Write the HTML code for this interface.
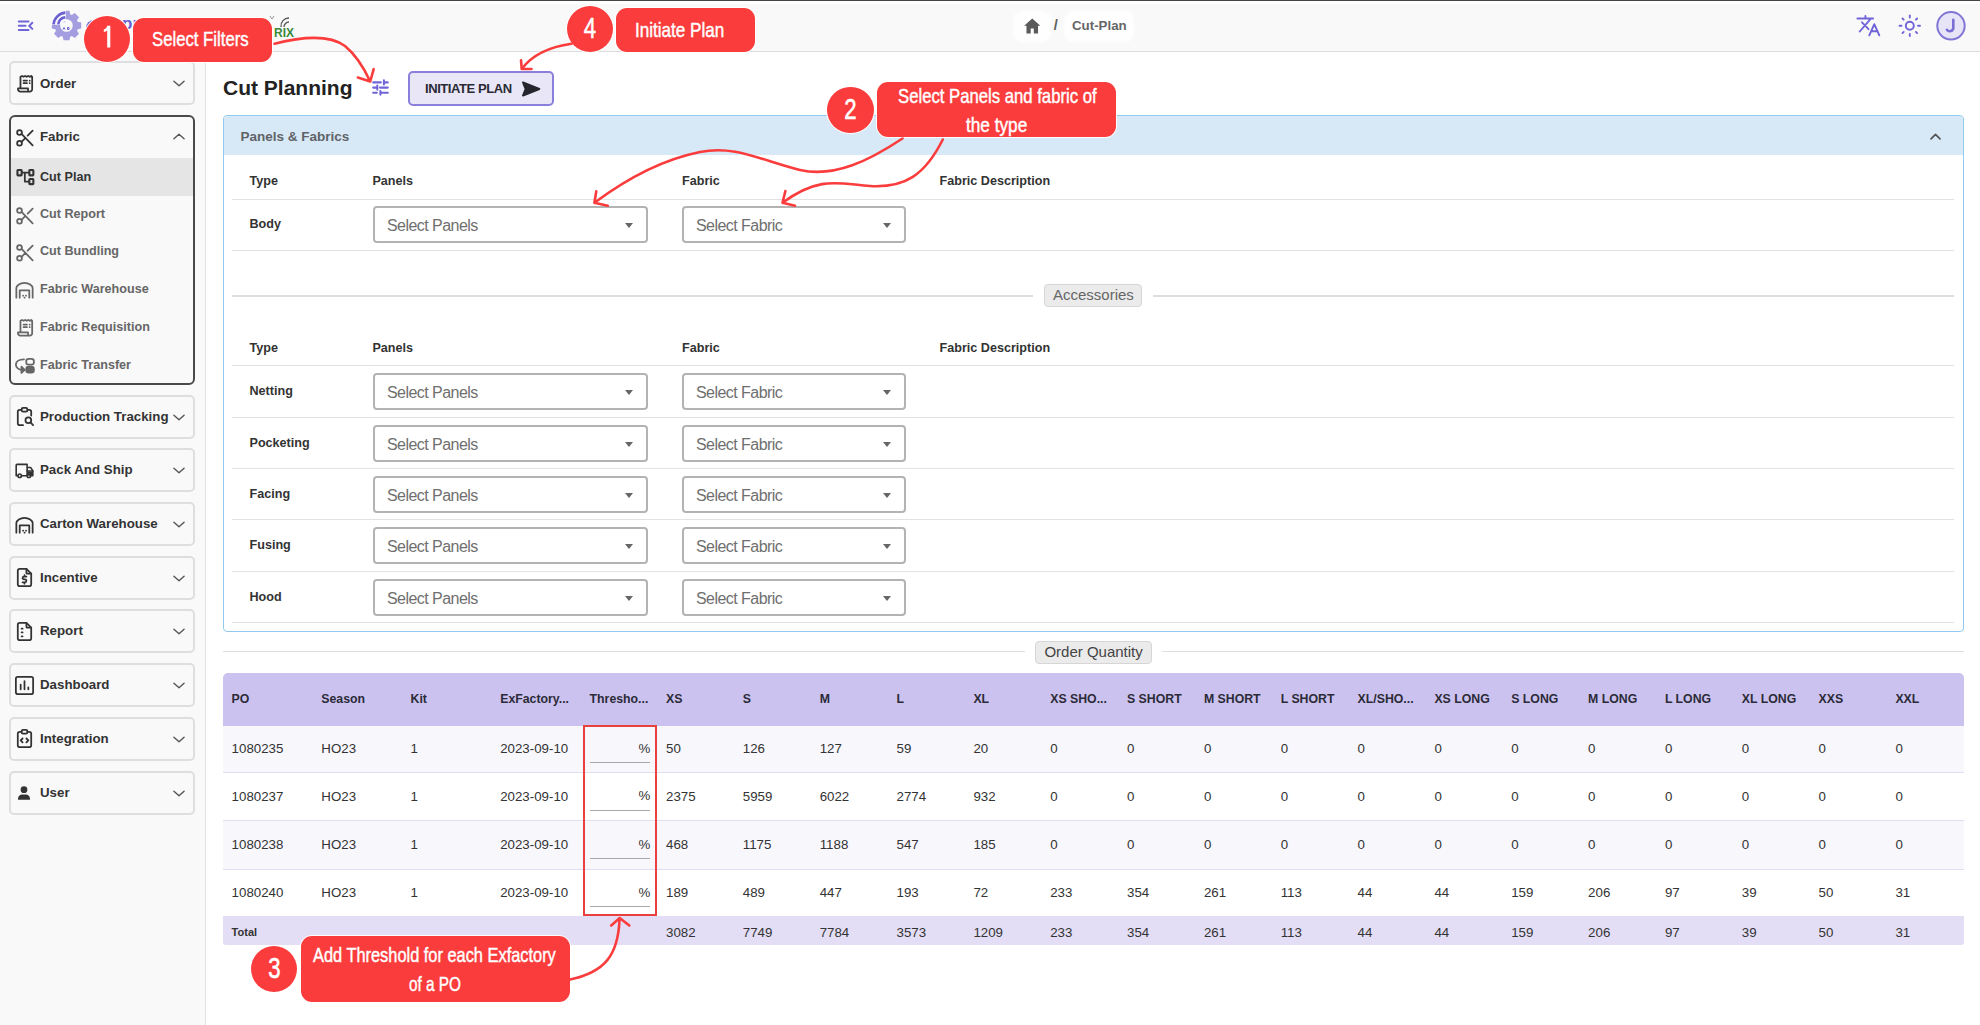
<!DOCTYPE html>
<html><head><meta charset="utf-8"><title>Cut Planning</title><style>
*{box-sizing:border-box;margin:0;padding:0}
html,body{width:1980px;height:1025px;overflow:hidden}
body{position:relative;background:#fff;font-family:"Liberation Sans",sans-serif;color:#333}
.a{position:absolute}
.t{position:absolute;white-space:nowrap;line-height:1}
.b{font-weight:bold}
.card{position:absolute;left:9px;width:186px;height:44px;border:2px solid #dedede;border-radius:5px;background:#f9f9f9}
.sel{position:absolute;border:2px solid #b3b3b3;border-radius:4px;background:#fff;height:37px}
.sel span{position:absolute;left:12px;top:10px;font-size:16px;color:#6f6f6f;letter-spacing:-0.55px;white-space:nowrap;line-height:1}
.sel i{position:absolute;top:15px;width:0;height:0;border-left:4.5px solid transparent;border-right:4.5px solid transparent;border-top:5px solid #666}
.hl{position:absolute;left:232px;width:1722px;height:1.2px;background:#e2e2e2}
.ann{position:absolute;background:#fb3c3c;box-shadow:0 0 0 1px rgba(255,255,255,.9)}
.cond{display:inline-block;transform-origin:0 0;color:#fff;white-space:nowrap;line-height:1;-webkit-text-stroke:0.45px #fff}
</style></head>
<body>
<div class="a" style="left:0;top:0;width:1980px;height:52px;background:#f9f9f9;border-bottom:1.5px solid #dcdcdc"></div>
<div class="a" style="left:0;top:0;width:1980px;height:1.4px;background:#454545"></div>
<div class="a" style="left:0;top:1.3px;width:1980px;height:3px;background:#fff"></div>
<div class="a" style="left:0;top:52px;width:206px;height:973px;background:#f9f9f9;border-right:1.5px solid #e2e2e2"></div>
<svg class="a" style="left:16px;top:18px" width="20" height="16" viewBox="0 0 20 16" fill="none" stroke="#7064d9" stroke-width="2" stroke-linecap="round">
<path d="M2.8 3.4H12.5M2.8 7.7H9.5M2.8 12H12.5M16.3 4.8L13.3 7.9L16.3 10.9"/></svg>
<svg class="a" style="left:51px;top:10px" width="31" height="31" viewBox="0 0 31 31">
<path fill="#a49de0" d="M26.70 11.79L30.20 12.52L30.20 18.48L26.70 19.21L26.04 20.80L28.00 23.79L23.79 28.00L20.80 26.04L19.21 26.70L18.48 30.20L12.52 30.20L11.79 26.70L10.20 26.04L7.21 28.00L3.00 23.79L4.96 20.80L4.30 19.21L0.80 18.48L0.80 12.52L4.30 11.79L4.96 10.20L3.00 7.21L7.21 3.00L10.20 4.96L11.79 4.30L12.52 0.80L18.48 0.80L19.21 4.30L20.80 4.96L23.79 3.00L28.00 7.21L26.04 10.20Z"/>
<rect x="0" y="0" width="14.8" height="14.8" fill="#f9f9f9"/><circle cx="15.5" cy="15.5" r="6.3" fill="#f9f9f9"/>
<path d="M14.3 2.6A12.9 12.9 0 0 0 2.6 14.3" stroke="#6a5fd3" stroke-width="2.6" fill="none"/>
<path d="M14.3 7.3A8.2 8.2 0 0 0 7.3 14.3" stroke="#6a5fd3" stroke-width="2.5" fill="none"/>
<path d="M12 19.5L13 17.5L14 19.5M16.5 17.5h1.5v2h-1.5z" stroke="#6a5fd3" stroke-width="1" fill="none"/>
<path d="M13 12.5L14 11.5" stroke="#6a5fd3" stroke-width="0.8"/>
</svg>
<div class="a" style="left:86px;top:20px;width:8px;height:8px;border-top:3px solid #6a5fd3;border-left:3px solid #6a5fd3;border-radius:8px 0 0 0"></div>
<div class="t b" style="left:122px;top:15px;font-size:17px;color:#6a5fd3">pr</div>
<div class="t b" style="left:274px;top:26.5px;font-size:12px;color:#3a8a3a;letter-spacing:0px">RIX</div>
<svg class="a" style="left:268px;top:14px" width="26" height="16" viewBox="0 0 26 16" fill="none" stroke="#555" stroke-width="1.3">
<path d="M13 13A8 8 0 0 1 21 4"/><path d="M16 13A5 5 0 0 1 21 8"/><path d="M2 2l2 3 2-3" stroke="#999" stroke-width="1"/></svg>
<div class="a" style="left:1014px;top:12px;width:36px;height:29px;background:#fefefe;border-radius:8px;box-shadow:0 0 3px 1px #fefefe"></div>
<div class="a" style="left:1065px;top:12px;width:68px;height:29px;background:#fefefe;border-radius:8px;box-shadow:0 0 3px 1px #fefefe"></div>
<svg class="a" style="left:1022.5px;top:17px" width="18.5" height="17.5" viewBox="0 0 24 22"><path fill="#5a5a5a" d="M12 1.5L1.5 11h3v10h5.5v-6.5h4V21h5.5V11h3z"/></svg>
<div class="t b" style="left:1053.8px;top:18px;font-size:14.5px;color:#5c5c5c">/</div>
<div class="t b" style="left:1072px;top:18.6px;font-size:13.3px;color:#666">Cut-Plan</div>
<svg class="a" style="left:1852px;top:10px" width="30" height="30" viewBox="0 0 30 30" fill="none" stroke="#7064d9" stroke-width="1.9" stroke-linecap="round" stroke-linejoin="round">
<path d="M5.4 8.5H21.1M13.4 6V8.5M18 9.6L7.7 21.5M10 12.3L16.5 19.2M17.3 25.3L22.3 14.2L27.3 25.3M19 21.2H25.6"/></svg>
<svg class="a" style="left:1897px;top:13px" width="26" height="26" viewBox="0 0 26 26" fill="none" stroke="#7064d9" stroke-width="1.9" stroke-linecap="round">
<circle cx="12.8" cy="12.8" r="4"/><path d="M12.8 2.5V4.5M12.8 21V23M2.5 12.8H4.5M21 12.8H23M5.5 5.5L6.7 6.7M18.9 18.9L20.1 20.1M5.5 20.1L6.7 18.9M18.9 6.7L20.1 5.5"/></svg>
<svg class="a" style="left:1930px;top:8px" width="42" height="36" viewBox="0 0 42 36"><circle cx="21" cy="17.8" r="13.7" fill="#e8e4f7" stroke="#8176d6" stroke-width="2"/><path d="M23.3 11.8V20.2A3.6 3.6 0 0 1 16.9 21.8" fill="none" stroke="#7a6fd4" stroke-width="2.6" stroke-linecap="round"/></svg>
<div class="card" style="top:61px"></div>
<svg class="a" style="left:13px;top:71.5px;color:#333" width="23" height="23" viewBox="0 0 24 24" fill="none" stroke="#333" stroke-width="1.85" stroke-linecap="round" stroke-linejoin="round"><path d="M7.8 17.2V5L9.4 4.1L11 5L12.6 4.1L14.2 5L15.8 4.1L17.4 5L19 4.1L20 5V18A2.4 2.4 0 0 1 17.6 20.4H7.6A2.4 2.4 0 0 1 5.2 18V17.2H15.7V20.2"/><path d="M11 8.9H14.6M11 11.6H14.6M17.4 8.9V9M17.4 11.6V11.7"/></svg>
<div class="t b" style="left:40px;top:77px;font-size:13.3px;color:#333">Order</div>
<svg class="a" style="left:172.5px;top:80px" width="12" height="7" viewBox="0 0 13 7" fill="none" stroke="#555" stroke-width="1.5" stroke-linecap="round" stroke-linejoin="round"><path d="M1 1L6.5 6L12 1"/></svg>
<div class="a" style="left:9px;top:115px;width:186px;height:270px;border:2px solid #4a4a4a;border-radius:6px;background:#f9f9f9"></div>
<svg class="a" style="left:13px;top:125px;color:#333" width="23" height="23" viewBox="0 0 24 24" fill="none" stroke="#333" stroke-width="1.85" stroke-linecap="round" stroke-linejoin="round"><circle cx="6.8" cy="7.9" r="2.5"/><circle cx="6.8" cy="19" r="2.5"/><path d="M8.9 9.3L20.5 21.2M8.9 17.6L12.8 13.7M15.3 11.2L20.5 5.9"/></svg>
<div class="t b" style="left:40px;top:130px;font-size:13.3px;color:#333">Fabric</div>
<svg class="a" style="left:172.5px;top:133px" width="12" height="7" viewBox="0 0 13 7" fill="none" stroke="#555" stroke-width="1.5" stroke-linecap="round" stroke-linejoin="round"><path d="M1 6L6.5 1L12 6"/></svg>
<div class="a" style="left:11px;top:158px;width:182px;height:38px;background:#e5e5e5"></div>
<svg class="a" style="left:14px;top:164.5px;color:#333" width="23" height="23" viewBox="0 0 24 24" fill="none" stroke="#333" stroke-width="1.85" stroke-linecap="round" stroke-linejoin="round"><rect x="3.6" y="5.2" width="4.4" height="5.6" rx="0.6" stroke-width="2.2"/><rect x="16" y="5.2" width="4.2" height="5.6" rx="0.6" stroke-width="2.2"/><rect x="16" y="14.6" width="4.2" height="5.4" rx="0.6" stroke-width="2.2"/><path d="M8 8H16M11.3 8V17.3H16"/></svg>
<div class="t b" style="left:40px;top:171px;font-size:12.6px;color:#333">Cut Plan</div>
<svg class="a" style="left:13px;top:202.5px;color:#666" width="23" height="23" viewBox="0 0 24 24" fill="none" stroke="#666" stroke-width="1.85" stroke-linecap="round" stroke-linejoin="round"><circle cx="6.8" cy="7.9" r="2.5"/><circle cx="6.8" cy="19" r="2.5"/><path d="M8.9 9.3L20.5 21.2M8.9 17.6L12.8 13.7M15.3 11.2L20.5 5.9"/></svg>
<div class="t b" style="left:40px;top:207.5px;font-size:12.6px;color:#666">Cut Report</div>
<svg class="a" style="left:13px;top:240.0px;color:#666" width="23" height="23" viewBox="0 0 24 24" fill="none" stroke="#666" stroke-width="1.85" stroke-linecap="round" stroke-linejoin="round"><circle cx="6.8" cy="7.9" r="2.5"/><circle cx="6.8" cy="19" r="2.5"/><path d="M8.9 9.3L20.5 21.2M8.9 17.6L12.8 13.7M15.3 11.2L20.5 5.9"/></svg>
<div class="t b" style="left:40px;top:245.0px;font-size:12.6px;color:#666">Cut Bundling</div>
<svg class="a" style="left:13px;top:277.5px;color:#666" width="23" height="23" viewBox="0 0 24 24" fill="none" stroke="#666" stroke-width="1.85" stroke-linecap="round" stroke-linejoin="round"><path d="M3.5 20.5V10.5C3.5 8 7.5 5 12 5C16.5 5 20.5 8 20.5 10.5V20.5"/><path d="M7 20.5V13H17V20.5"/><path d="M10.5 18.5H10.6M13.5 18.5H13.6M12 20.5H12.1"/></svg>
<div class="t b" style="left:40px;top:282.5px;font-size:12.6px;color:#666">Fabric Warehouse</div>
<svg class="a" style="left:13px;top:315.5px;color:#666" width="23" height="23" viewBox="0 0 24 24" fill="none" stroke="#666" stroke-width="1.85" stroke-linecap="round" stroke-linejoin="round"><path d="M7.8 17.2V5L9.4 4.1L11 5L12.6 4.1L14.2 5L15.8 4.1L17.4 5L19 4.1L20 5V18A2.4 2.4 0 0 1 17.6 20.4H7.6A2.4 2.4 0 0 1 5.2 18V17.2H15.7V20.2"/><path d="M11 8.9H14.6M11 11.6H14.6M17.4 8.9V9M17.4 11.6V11.7"/></svg>
<div class="t b" style="left:40px;top:320.5px;font-size:12.6px;color:#666">Fabric Requisition</div>
<svg class="a" style="left:13px;top:353.5px;color:#666" width="23" height="23" viewBox="0 0 24 24" fill="none" stroke="#666" stroke-width="1.85" stroke-linecap="round" stroke-linejoin="round"><path d="M11.5 5.5C6.5 5.5 3 7.8 3 11C3 14.2 6 16.5 9.5 16.5"/><path d="M8.8 13.2L12.2 16.5L8.8 19.8Z" fill="currentColor"/><rect x="13.8" y="5" width="8" height="6" rx="2.5"/><rect x="13.8" y="13.3" width="8" height="6.2" rx="2.5" fill="currentColor"/></svg>
<div class="t b" style="left:40px;top:358.5px;font-size:12.6px;color:#666">Fabric Transfer</div>
<div class="card" style="top:394.6px"></div>
<svg class="a" style="left:13px;top:405.1px;color:#333" width="23" height="23" viewBox="0 0 24 24" fill="none" stroke="#333" stroke-width="1.85" stroke-linecap="round" stroke-linejoin="round"><path d="M9 5H7A2 2 0 0 0 5 7V19A2 2 0 0 0 7 21H10.5"/><path d="M15 5H17A2 2 0 0 1 19 7V11"/><rect x="9" y="3" width="6" height="4" rx="1.5"/><circle cx="16" cy="16" r="3"/><path d="M18.2 18.2L21 21"/></svg>
<div class="t b" style="left:40px;top:409.6px;font-size:13.3px;color:#333">Production Tracking</div>
<svg class="a" style="left:172.5px;top:413.6px" width="12" height="7" viewBox="0 0 13 7" fill="none" stroke="#555" stroke-width="1.5" stroke-linecap="round" stroke-linejoin="round"><path d="M1 1L6.5 6L12 1"/></svg>
<div class="card" style="top:448.3px"></div>
<svg class="a" style="left:14px;top:459.8px;color:#333" width="21" height="21" viewBox="0 0 24 24" fill="none" stroke="#333" stroke-width="1.85" stroke-linecap="round" stroke-linejoin="round"><circle cx="6.5" cy="18" r="2"/><circle cx="17" cy="18" r="2"/><path d="M4.5 18H2.5V6A1 1 0 0 1 3.5 5H15V18M8.5 18H15M19 18H21.5V12.5L19 8.5H15"/><path d="M15 12.5H21.5" /><path d="M16.5 14h4v3h-4z" fill="currentColor"/></svg>
<div class="t b" style="left:40px;top:463.3px;font-size:13.3px;color:#333">Pack And Ship</div>
<svg class="a" style="left:172.5px;top:467.3px" width="12" height="7" viewBox="0 0 13 7" fill="none" stroke="#555" stroke-width="1.5" stroke-linecap="round" stroke-linejoin="round"><path d="M1 1L6.5 6L12 1"/></svg>
<div class="card" style="top:502.0px"></div>
<svg class="a" style="left:13px;top:512.5px;color:#333" width="23" height="23" viewBox="0 0 24 24" fill="none" stroke="#333" stroke-width="1.85" stroke-linecap="round" stroke-linejoin="round"><path d="M3.5 20.5V10.5C3.5 8 7.5 5 12 5C16.5 5 20.5 8 20.5 10.5V20.5"/><path d="M7 20.5V13H17V20.5"/><path d="M10.5 18.5H10.6M13.5 18.5H13.6M12 20.5H12.1"/></svg>
<div class="t b" style="left:40px;top:517.0px;font-size:13.3px;color:#333">Carton Warehouse</div>
<svg class="a" style="left:172.5px;top:521.0px" width="12" height="7" viewBox="0 0 13 7" fill="none" stroke="#555" stroke-width="1.5" stroke-linecap="round" stroke-linejoin="round"><path d="M1 1L6.5 6L12 1"/></svg>
<div class="card" style="top:555.7px"></div>
<svg class="a" style="left:13px;top:566.2px;color:#333" width="23" height="23" viewBox="0 0 24 24" fill="none" stroke="#333" stroke-width="1.85" stroke-linecap="round" stroke-linejoin="round"><path d="M14 3V7A1 1 0 0 0 15 8H19"/><path d="M17 21H7A2 2 0 0 1 5 19V5A2 2 0 0 1 7 3H14L19 8V19A2 2 0 0 1 17 21Z"/><path d="M14 11H11.5A1.5 1.5 0 0 0 11.5 14H12.5A1.5 1.5 0 0 1 12.5 17H10M12 17V18.5M12 9.5V11"/></svg>
<div class="t b" style="left:40px;top:570.7px;font-size:13.3px;color:#333">Incentive</div>
<svg class="a" style="left:172.5px;top:574.7px" width="12" height="7" viewBox="0 0 13 7" fill="none" stroke="#555" stroke-width="1.5" stroke-linecap="round" stroke-linejoin="round"><path d="M1 1L6.5 6L12 1"/></svg>
<div class="card" style="top:609.4px"></div>
<svg class="a" style="left:13px;top:619.9px;color:#333" width="23" height="23" viewBox="0 0 24 24" fill="none" stroke="#333" stroke-width="1.85" stroke-linecap="round" stroke-linejoin="round"><path d="M14 3V7A1 1 0 0 0 15 8H19"/><path d="M17 21H7A2 2 0 0 1 5 19V5A2 2 0 0 1 7 3H14L19 8V19A2 2 0 0 1 17 21Z"/><path d="M9 9H10M9 13H10M9 17H10"/></svg>
<div class="t b" style="left:40px;top:624.4px;font-size:13.3px;color:#333">Report</div>
<svg class="a" style="left:172.5px;top:628.4px" width="12" height="7" viewBox="0 0 13 7" fill="none" stroke="#555" stroke-width="1.5" stroke-linecap="round" stroke-linejoin="round"><path d="M1 1L6.5 6L12 1"/></svg>
<div class="card" style="top:663.1px"></div>
<svg class="a" style="left:13px;top:673.6px;color:#333" width="23" height="23" viewBox="0 0 24 24" fill="none" stroke="#333" stroke-width="1.85" stroke-linecap="round" stroke-linejoin="round"><rect x="3" y="3" width="18" height="18" rx="2"/><path d="M8 16V11M12 16V7.5M16 16V14"/></svg>
<div class="t b" style="left:40px;top:678.1px;font-size:13.3px;color:#333">Dashboard</div>
<svg class="a" style="left:172.5px;top:682.1px" width="12" height="7" viewBox="0 0 13 7" fill="none" stroke="#555" stroke-width="1.5" stroke-linecap="round" stroke-linejoin="round"><path d="M1 1L6.5 6L12 1"/></svg>
<div class="card" style="top:716.8px"></div>
<svg class="a" style="left:13px;top:727.3px;color:#333" width="23" height="23" viewBox="0 0 24 24" fill="none" stroke="#333" stroke-width="1.85" stroke-linecap="round" stroke-linejoin="round"><path d="M9 5H7A2 2 0 0 0 5 7V19A2 2 0 0 0 7 21H17A2 2 0 0 0 19 19V7A2 2 0 0 0 17 5H15"/><rect x="9" y="3" width="6" height="4" rx="1.5"/><path d="M10 12L8 14L10 16M14 12L16 14L14 16"/></svg>
<div class="t b" style="left:40px;top:731.8px;font-size:13.3px;color:#333">Integration</div>
<svg class="a" style="left:172.5px;top:735.8px" width="12" height="7" viewBox="0 0 13 7" fill="none" stroke="#555" stroke-width="1.5" stroke-linecap="round" stroke-linejoin="round"><path d="M1 1L6.5 6L12 1"/></svg>
<div class="card" style="top:770.5px"></div>
<svg class="a" style="left:15px;top:783.5px" width="18" height="18" viewBox="0 0 24 24"><circle cx="12" cy="7.5" r="4.5" fill="#333"/><path d="M4 21v-1.5A5.5 5.5 0 0 1 9.5 14h5a5.5 5.5 0 0 1 5.5 5.5V21z" fill="#333"/></svg>
<div class="t b" style="left:40px;top:785.5px;font-size:13.3px;color:#333">User</div>
<svg class="a" style="left:172.5px;top:789.5px" width="12" height="7" viewBox="0 0 13 7" fill="none" stroke="#555" stroke-width="1.5" stroke-linecap="round" stroke-linejoin="round"><path d="M1 1L6.5 6L12 1"/></svg>
<div class="t b" style="left:223px;top:77px;font-size:21px;color:#222">Cut Planning</div>
<svg class="a" style="left:368px;top:76px" width="24" height="22" viewBox="0 0 24 22" fill="none" stroke="#7064d9" stroke-width="2.1" stroke-linecap="round">
<path d="M5.2 6.4H12.8M15.9 4.4V8.4M15.9 6.4H19.7M5.2 11.6H8.6M9.3 9.6V13.6M12 11.6H19.8M5.2 16.7H8.8M12.4 15V18.6M12.4 16.7H19.8"/></svg>
<div class="a" style="left:408px;top:70.5px;width:146px;height:35px;border:2px solid #8b7fdc;border-radius:5px;background:#e9e6f8"></div>
<div class="t b" style="left:425px;top:81.8px;font-size:13px;color:#2a2a33;letter-spacing:-0.42px">INITIATE PLAN</div>
<svg class="a" style="left:521px;top:81px" width="20" height="16" viewBox="0 0 20 16"><path d="M2 1.5L18.3 8L2 14.5L4.6 8Z" fill="#25252e" stroke="#25252e" stroke-width="2" stroke-linejoin="round"/></svg>
<div class="a" style="left:223px;top:114.5px;width:1740.5px;height:517.5px;border:1.7px solid #92c9ef;border-radius:4px;background:#fff;overflow:hidden"><div style="height:39.5px;background:#d7e9f6"></div></div>
<div class="t b" style="left:240.5px;top:130px;font-size:13.5px;color:#5f6368">Panels &amp; Fabrics</div>
<svg class="a" style="left:1929.5px;top:133px" width="11" height="7" viewBox="0 0 11 7" fill="none" stroke="#555" stroke-width="1.7" stroke-linecap="round" stroke-linejoin="round"><path d="M1 5.8L5.5 1.3L10 5.8"/></svg>
<div class="t b" style="left:249.5px;top:175.4px;font-size:12.6px;color:#333">Type</div>
<div class="t b" style="left:372.4px;top:175.4px;font-size:12.6px;color:#333">Panels</div>
<div class="t b" style="left:682px;top:175.4px;font-size:12.6px;color:#333">Fabric</div>
<div class="t b" style="left:939.5px;top:175.4px;font-size:12.6px;color:#333">Fabric Description</div>
<div class="hl" style="top:199px"></div>
<div class="t b" style="left:249.5px;top:217.6px;font-size:12.6px;color:#333">Body</div>
<div class="sel" style="left:373px;top:205.6px;width:275px"><span>Select Panels</span><i style="left:250px"></i></div>
<div class="sel" style="left:682px;top:205.6px;width:224px"><span>Select Fabric</span><i style="left:198.5px"></i></div>
<div class="hl" style="top:249.5px"></div>
<div class="a" style="left:232px;top:295.2px;width:801px;height:1.5px;background:#dedede"></div>
<div class="a" style="left:1153px;top:295.2px;width:801px;height:1.5px;background:#dedede"></div>
<div class="a" style="left:1044px;top:284px;width:98px;height:23px;background:#ebebeb;border:1px solid #d6d6d6;border-radius:4px"></div>
<div class="t" style="left:1053px;top:286.7px;font-size:15px;color:#666">Accessories</div>
<div class="t b" style="left:249.5px;top:342.0px;font-size:12.6px;color:#333">Type</div>
<div class="t b" style="left:372.4px;top:342.0px;font-size:12.6px;color:#333">Panels</div>
<div class="t b" style="left:682px;top:342.0px;font-size:12.6px;color:#333">Fabric</div>
<div class="t b" style="left:939.5px;top:342.0px;font-size:12.6px;color:#333">Fabric Description</div>
<div class="hl" style="top:364.7px"></div>
<div class="t b" style="left:249.5px;top:385.1px;font-size:12.6px;color:#333">Netting</div>
<div class="sel" style="left:373px;top:373.1px;width:275px"><span>Select Panels</span><i style="left:250px"></i></div>
<div class="sel" style="left:682px;top:373.1px;width:224px"><span>Select Fabric</span><i style="left:198.5px"></i></div>
<div class="hl" style="top:416.6px"></div>
<div class="t b" style="left:249.5px;top:436.5px;font-size:12.6px;color:#333">Pocketing</div>
<div class="sel" style="left:373px;top:424.5px;width:275px"><span>Select Panels</span><i style="left:250px"></i></div>
<div class="sel" style="left:682px;top:424.5px;width:224px"><span>Select Fabric</span><i style="left:198.5px"></i></div>
<div class="hl" style="top:468.0px"></div>
<div class="t b" style="left:249.5px;top:487.8px;font-size:12.6px;color:#333">Facing</div>
<div class="sel" style="left:373px;top:475.8px;width:275px"><span>Select Panels</span><i style="left:250px"></i></div>
<div class="sel" style="left:682px;top:475.8px;width:224px"><span>Select Fabric</span><i style="left:198.5px"></i></div>
<div class="hl" style="top:519.3px"></div>
<div class="t b" style="left:249.5px;top:539.2px;font-size:12.6px;color:#333">Fusing</div>
<div class="sel" style="left:373px;top:527.2px;width:275px"><span>Select Panels</span><i style="left:250px"></i></div>
<div class="sel" style="left:682px;top:527.2px;width:224px"><span>Select Fabric</span><i style="left:198.5px"></i></div>
<div class="hl" style="top:570.7px"></div>
<div class="t b" style="left:249.5px;top:590.5px;font-size:12.6px;color:#333">Hood</div>
<div class="sel" style="left:373px;top:578.5px;width:275px"><span>Select Panels</span><i style="left:250px"></i></div>
<div class="sel" style="left:682px;top:578.5px;width:224px"><span>Select Fabric</span><i style="left:198.5px"></i></div>
<div class="hl" style="top:622.0px"></div>
<div class="a" style="left:223px;top:650.8px;width:802px;height:1.5px;background:#dedede"></div>
<div class="a" style="left:1161.5px;top:650.8px;width:802px;height:1.5px;background:#dedede"></div>
<div class="a" style="left:1035px;top:640.7px;width:116.5px;height:23px;background:#ebebeb;border:1px solid #d6d6d6;border-radius:4px"></div>
<div class="t" style="left:1044.4px;top:644px;font-size:15px;color:#444">Order Quantity</div>
<div class="a" style="left:223px;top:672.5px;width:1740.5px;height:53.5px;background:#cbc2ef;border-radius:5px 5px 0 0"></div>
<div class="t b" style="left:231.6px;top:693px;font-size:12.3px;color:#2b2b38">PO</div>
<div class="t b" style="left:321.3px;top:693px;font-size:12.3px;color:#2b2b38">Season</div>
<div class="t b" style="left:410.5px;top:693px;font-size:12.3px;color:#2b2b38">Kit</div>
<div class="t b" style="left:500.2px;top:693px;font-size:12.3px;color:#2b2b38">ExFactory...</div>
<div class="t b" style="left:589.6px;top:693px;font-size:12.3px;color:#2b2b38">Thresho...</div>
<div class="t b" style="left:666.0px;top:693px;font-size:12.3px;color:#2b2b38">XS</div>
<div class="t b" style="left:742.8px;top:693px;font-size:12.3px;color:#2b2b38">S</div>
<div class="t b" style="left:819.7px;top:693px;font-size:12.3px;color:#2b2b38">M</div>
<div class="t b" style="left:896.5px;top:693px;font-size:12.3px;color:#2b2b38">L</div>
<div class="t b" style="left:973.4px;top:693px;font-size:12.3px;color:#2b2b38">XL</div>
<div class="t b" style="left:1050.2px;top:693px;font-size:12.3px;color:#2b2b38">XS SHO...</div>
<div class="t b" style="left:1127.0px;top:693px;font-size:12.3px;color:#2b2b38">S SHORT</div>
<div class="t b" style="left:1203.9px;top:693px;font-size:12.3px;color:#2b2b38">M SHORT</div>
<div class="t b" style="left:1280.7px;top:693px;font-size:12.3px;color:#2b2b38">L SHORT</div>
<div class="t b" style="left:1357.6px;top:693px;font-size:12.3px;color:#2b2b38">XL/SHO...</div>
<div class="t b" style="left:1434.4px;top:693px;font-size:12.3px;color:#2b2b38">XS LONG</div>
<div class="t b" style="left:1511.2px;top:693px;font-size:12.3px;color:#2b2b38">S LONG</div>
<div class="t b" style="left:1588.1px;top:693px;font-size:12.3px;color:#2b2b38">M LONG</div>
<div class="t b" style="left:1664.9px;top:693px;font-size:12.3px;color:#2b2b38">L LONG</div>
<div class="t b" style="left:1741.8px;top:693px;font-size:12.3px;color:#2b2b38">XL LONG</div>
<div class="t b" style="left:1818.6px;top:693px;font-size:12.3px;color:#2b2b38">XXS</div>
<div class="t b" style="left:1895.4px;top:693px;font-size:12.3px;color:#2b2b38">XXL</div>
<div class="a" style="left:223px;top:726px;width:1740.5px;height:46.7px;background:#f8f7fc;border-bottom:1.5px solid #e2ddf5"></div>
<div class="t" style="left:231.6px;top:742.4px;font-size:13.3px;color:#333">1080235</div>
<div class="t" style="left:321.3px;top:742.4px;font-size:13.3px;color:#333">HO23</div>
<div class="t" style="left:410.5px;top:742.4px;font-size:13.3px;color:#333">1</div>
<div class="t" style="left:500.2px;top:742.4px;font-size:13.3px;color:#333">2023-09-10</div>
<div class="t" style="left:666.0px;top:742.4px;font-size:13.3px;color:#333">50</div>
<div class="t" style="left:742.8px;top:742.4px;font-size:13.3px;color:#333">126</div>
<div class="t" style="left:819.7px;top:742.4px;font-size:13.3px;color:#333">127</div>
<div class="t" style="left:896.5px;top:742.4px;font-size:13.3px;color:#333">59</div>
<div class="t" style="left:973.4px;top:742.4px;font-size:13.3px;color:#333">20</div>
<div class="t" style="left:1050.2px;top:742.4px;font-size:13.3px;color:#333">0</div>
<div class="t" style="left:1127.0px;top:742.4px;font-size:13.3px;color:#333">0</div>
<div class="t" style="left:1203.9px;top:742.4px;font-size:13.3px;color:#333">0</div>
<div class="t" style="left:1280.7px;top:742.4px;font-size:13.3px;color:#333">0</div>
<div class="t" style="left:1357.6px;top:742.4px;font-size:13.3px;color:#333">0</div>
<div class="t" style="left:1434.4px;top:742.4px;font-size:13.3px;color:#333">0</div>
<div class="t" style="left:1511.2px;top:742.4px;font-size:13.3px;color:#333">0</div>
<div class="t" style="left:1588.1px;top:742.4px;font-size:13.3px;color:#333">0</div>
<div class="t" style="left:1664.9px;top:742.4px;font-size:13.3px;color:#333">0</div>
<div class="t" style="left:1741.8px;top:742.4px;font-size:13.3px;color:#333">0</div>
<div class="t" style="left:1818.6px;top:742.4px;font-size:13.3px;color:#333">0</div>
<div class="t" style="left:1895.4px;top:742.4px;font-size:13.3px;color:#333">0</div>
<div class="a" style="left:590px;top:762px;width:59.5px;height:1.3px;background:#a8a8a8"></div>
<div class="t" style="left:638.5px;top:741.9px;font-size:13.3px;color:#333">%</div>
<div class="a" style="left:223px;top:772.7px;width:1740.5px;height:48.3px;background:#ffffff;border-bottom:1.5px solid #e2ddf5"></div>
<div class="t" style="left:231.6px;top:789.9px;font-size:13.3px;color:#333">1080237</div>
<div class="t" style="left:321.3px;top:789.9px;font-size:13.3px;color:#333">HO23</div>
<div class="t" style="left:410.5px;top:789.9px;font-size:13.3px;color:#333">1</div>
<div class="t" style="left:500.2px;top:789.9px;font-size:13.3px;color:#333">2023-09-10</div>
<div class="t" style="left:666.0px;top:789.9px;font-size:13.3px;color:#333">2375</div>
<div class="t" style="left:742.8px;top:789.9px;font-size:13.3px;color:#333">5959</div>
<div class="t" style="left:819.7px;top:789.9px;font-size:13.3px;color:#333">6022</div>
<div class="t" style="left:896.5px;top:789.9px;font-size:13.3px;color:#333">2774</div>
<div class="t" style="left:973.4px;top:789.9px;font-size:13.3px;color:#333">932</div>
<div class="t" style="left:1050.2px;top:789.9px;font-size:13.3px;color:#333">0</div>
<div class="t" style="left:1127.0px;top:789.9px;font-size:13.3px;color:#333">0</div>
<div class="t" style="left:1203.9px;top:789.9px;font-size:13.3px;color:#333">0</div>
<div class="t" style="left:1280.7px;top:789.9px;font-size:13.3px;color:#333">0</div>
<div class="t" style="left:1357.6px;top:789.9px;font-size:13.3px;color:#333">0</div>
<div class="t" style="left:1434.4px;top:789.9px;font-size:13.3px;color:#333">0</div>
<div class="t" style="left:1511.2px;top:789.9px;font-size:13.3px;color:#333">0</div>
<div class="t" style="left:1588.1px;top:789.9px;font-size:13.3px;color:#333">0</div>
<div class="t" style="left:1664.9px;top:789.9px;font-size:13.3px;color:#333">0</div>
<div class="t" style="left:1741.8px;top:789.9px;font-size:13.3px;color:#333">0</div>
<div class="t" style="left:1818.6px;top:789.9px;font-size:13.3px;color:#333">0</div>
<div class="t" style="left:1895.4px;top:789.9px;font-size:13.3px;color:#333">0</div>
<div class="a" style="left:590px;top:810px;width:59.5px;height:1.3px;background:#a8a8a8"></div>
<div class="t" style="left:638.5px;top:789.4px;font-size:13.3px;color:#333">%</div>
<div class="a" style="left:223px;top:821px;width:1740.5px;height:48.5px;background:#f8f7fc;border-bottom:1.5px solid #e2ddf5"></div>
<div class="t" style="left:231.6px;top:838.2px;font-size:13.3px;color:#333">1080238</div>
<div class="t" style="left:321.3px;top:838.2px;font-size:13.3px;color:#333">HO23</div>
<div class="t" style="left:410.5px;top:838.2px;font-size:13.3px;color:#333">1</div>
<div class="t" style="left:500.2px;top:838.2px;font-size:13.3px;color:#333">2023-09-10</div>
<div class="t" style="left:666.0px;top:838.2px;font-size:13.3px;color:#333">468</div>
<div class="t" style="left:742.8px;top:838.2px;font-size:13.3px;color:#333">1175</div>
<div class="t" style="left:819.7px;top:838.2px;font-size:13.3px;color:#333">1188</div>
<div class="t" style="left:896.5px;top:838.2px;font-size:13.3px;color:#333">547</div>
<div class="t" style="left:973.4px;top:838.2px;font-size:13.3px;color:#333">185</div>
<div class="t" style="left:1050.2px;top:838.2px;font-size:13.3px;color:#333">0</div>
<div class="t" style="left:1127.0px;top:838.2px;font-size:13.3px;color:#333">0</div>
<div class="t" style="left:1203.9px;top:838.2px;font-size:13.3px;color:#333">0</div>
<div class="t" style="left:1280.7px;top:838.2px;font-size:13.3px;color:#333">0</div>
<div class="t" style="left:1357.6px;top:838.2px;font-size:13.3px;color:#333">0</div>
<div class="t" style="left:1434.4px;top:838.2px;font-size:13.3px;color:#333">0</div>
<div class="t" style="left:1511.2px;top:838.2px;font-size:13.3px;color:#333">0</div>
<div class="t" style="left:1588.1px;top:838.2px;font-size:13.3px;color:#333">0</div>
<div class="t" style="left:1664.9px;top:838.2px;font-size:13.3px;color:#333">0</div>
<div class="t" style="left:1741.8px;top:838.2px;font-size:13.3px;color:#333">0</div>
<div class="t" style="left:1818.6px;top:838.2px;font-size:13.3px;color:#333">0</div>
<div class="t" style="left:1895.4px;top:838.2px;font-size:13.3px;color:#333">0</div>
<div class="a" style="left:590px;top:858px;width:59.5px;height:1.3px;background:#a8a8a8"></div>
<div class="t" style="left:638.5px;top:837.8px;font-size:13.3px;color:#333">%</div>
<div class="a" style="left:223px;top:869.5px;width:1740.5px;height:47.0px;background:#ffffff;border-bottom:1.5px solid #e2ddf5"></div>
<div class="t" style="left:231.6px;top:886.0px;font-size:13.3px;color:#333">1080240</div>
<div class="t" style="left:321.3px;top:886.0px;font-size:13.3px;color:#333">HO23</div>
<div class="t" style="left:410.5px;top:886.0px;font-size:13.3px;color:#333">1</div>
<div class="t" style="left:500.2px;top:886.0px;font-size:13.3px;color:#333">2023-09-10</div>
<div class="t" style="left:666.0px;top:886.0px;font-size:13.3px;color:#333">189</div>
<div class="t" style="left:742.8px;top:886.0px;font-size:13.3px;color:#333">489</div>
<div class="t" style="left:819.7px;top:886.0px;font-size:13.3px;color:#333">447</div>
<div class="t" style="left:896.5px;top:886.0px;font-size:13.3px;color:#333">193</div>
<div class="t" style="left:973.4px;top:886.0px;font-size:13.3px;color:#333">72</div>
<div class="t" style="left:1050.2px;top:886.0px;font-size:13.3px;color:#333">233</div>
<div class="t" style="left:1127.0px;top:886.0px;font-size:13.3px;color:#333">354</div>
<div class="t" style="left:1203.9px;top:886.0px;font-size:13.3px;color:#333">261</div>
<div class="t" style="left:1280.7px;top:886.0px;font-size:13.3px;color:#333">113</div>
<div class="t" style="left:1357.6px;top:886.0px;font-size:13.3px;color:#333">44</div>
<div class="t" style="left:1434.4px;top:886.0px;font-size:13.3px;color:#333">44</div>
<div class="t" style="left:1511.2px;top:886.0px;font-size:13.3px;color:#333">159</div>
<div class="t" style="left:1588.1px;top:886.0px;font-size:13.3px;color:#333">206</div>
<div class="t" style="left:1664.9px;top:886.0px;font-size:13.3px;color:#333">97</div>
<div class="t" style="left:1741.8px;top:886.0px;font-size:13.3px;color:#333">39</div>
<div class="t" style="left:1818.6px;top:886.0px;font-size:13.3px;color:#333">50</div>
<div class="t" style="left:1895.4px;top:886.0px;font-size:13.3px;color:#333">31</div>
<div class="a" style="left:590px;top:906px;width:59.5px;height:1.3px;background:#a8a8a8"></div>
<div class="t" style="left:638.5px;top:885.5px;font-size:13.3px;color:#333">%</div>
<div class="a" style="left:223px;top:916.5px;width:1740.5px;height:28.5px;background:#e3def5;border-radius:0 0 3px 3px"></div>
<div class="t b" style="left:231.6px;top:926.5px;font-size:11px;color:#333">Total</div>
<div class="t" style="left:666.0px;top:925.5px;font-size:13.3px;color:#333">3082</div>
<div class="t" style="left:742.8px;top:925.5px;font-size:13.3px;color:#333">7749</div>
<div class="t" style="left:819.7px;top:925.5px;font-size:13.3px;color:#333">7784</div>
<div class="t" style="left:896.5px;top:925.5px;font-size:13.3px;color:#333">3573</div>
<div class="t" style="left:973.4px;top:925.5px;font-size:13.3px;color:#333">1209</div>
<div class="t" style="left:1050.2px;top:925.5px;font-size:13.3px;color:#333">233</div>
<div class="t" style="left:1127.0px;top:925.5px;font-size:13.3px;color:#333">354</div>
<div class="t" style="left:1203.9px;top:925.5px;font-size:13.3px;color:#333">261</div>
<div class="t" style="left:1280.7px;top:925.5px;font-size:13.3px;color:#333">113</div>
<div class="t" style="left:1357.6px;top:925.5px;font-size:13.3px;color:#333">44</div>
<div class="t" style="left:1434.4px;top:925.5px;font-size:13.3px;color:#333">44</div>
<div class="t" style="left:1511.2px;top:925.5px;font-size:13.3px;color:#333">159</div>
<div class="t" style="left:1588.1px;top:925.5px;font-size:13.3px;color:#333">206</div>
<div class="t" style="left:1664.9px;top:925.5px;font-size:13.3px;color:#333">97</div>
<div class="t" style="left:1741.8px;top:925.5px;font-size:13.3px;color:#333">39</div>
<div class="t" style="left:1818.6px;top:925.5px;font-size:13.3px;color:#333">50</div>
<div class="t" style="left:1895.4px;top:925.5px;font-size:13.3px;color:#333">31</div>
<div class="a" style="left:582.8px;top:725px;width:74.4px;height:191px;border:2px solid #e8403f"></div>
<div class="ann" style="left:84.1px;top:16.0px;width:46.4px;height:46.4px;border-radius:50%"></div>
<div class="a" style="left:84.1px;top:16.0px;width:46.4px;height:46.4px;text-align:center;line-height:46.4px;color:#fff;font-size:29.5px;transform:scaleX(0.75);-webkit-text-stroke:0.6px #fff"><span style="position:relative;top:-1px"></span></div>
<svg class="a" style="left:100px;top:24px" width="14" height="26" viewBox="0 0 14 26"><path d="M7.2 1.8H10.3V23.4H7.2V6.2C6.4 7.2 5.2 7.7 3.8 7.9V5.6C5.6 5.2 6.7 3.9 7.2 1.8Z" fill="#fff"/></svg>
<div class="ann" style="left:133px;top:17.7px;width:139.0px;height:44.8px;border-radius:11px"></div>
<div class="t" style="left:152.2px;top:28.2px;font-size:21px"><span class="cond" style="transform:scaleX(0.796)">Select Filters</span></div>
<div class="ann" style="left:566.7px;top:6.1px;width:46.0px;height:46.0px;border-radius:50%"></div>
<div class="a" style="left:566.7px;top:6.1px;width:46.0px;height:46.0px;text-align:center;line-height:46.0px;color:#fff;font-size:29.5px;transform:scaleX(0.75);-webkit-text-stroke:0.6px #fff"><span style="position:relative;top:-1px">4</span></div>
<div class="ann" style="left:616.2px;top:7.9px;width:138.6px;height:44.6px;border-radius:11px"></div>
<div class="t" style="left:635.3px;top:18.7px;font-size:21px"><span class="cond" style="transform:scaleX(0.814)">Initiate Plan</span></div>
<div class="ann" style="left:827.2px;top:86.7px;width:46.6px;height:46.6px;border-radius:50%"></div>
<div class="a" style="left:827.2px;top:86.7px;width:46.6px;height:46.6px;text-align:center;line-height:46.6px;color:#fff;font-size:29.5px;transform:scaleX(0.75);-webkit-text-stroke:0.6px #fff"><span style="position:relative;top:-1px">2</span></div>
<div class="ann" style="left:877px;top:82.3px;width:239.0px;height:55.2px;border-radius:11px"></div>
<div class="t" style="left:897.5px;top:85.0px;font-size:21px"><span class="cond" style="transform:scaleX(0.795)">Select Panels and fabric of</span></div>
<div class="t" style="left:965.7px;top:113.7px;font-size:21px"><span class="cond" style="transform:scaleX(0.820)">the type</span></div>
<div class="ann" style="left:250.7px;top:945.7px;width:46.6px;height:46.6px;border-radius:50%"></div>
<div class="a" style="left:250.7px;top:945.7px;width:46.6px;height:46.6px;text-align:center;line-height:46.6px;color:#fff;font-size:29.5px;transform:scaleX(0.75);-webkit-text-stroke:0.6px #fff"><span style="position:relative;top:-1px">3</span></div>
<div class="ann" style="left:300.5px;top:936px;width:269.5px;height:66.0px;border-radius:11px"></div>
<div class="t" style="left:313.2px;top:944.3px;font-size:21px"><span class="cond" style="transform:scaleX(0.780)">Add Threshold for each Exfactory</span></div>
<div class="t" style="left:408.6px;top:972.6px;font-size:21px"><span class="cond" style="transform:scaleX(0.730)">of a PO</span></div>
<svg class="a" style="left:0;top:0" width="1980" height="1025" fill="none" stroke="#fb3c3c" stroke-width="2.6" stroke-linecap="round" stroke-linejoin="round">
<path d="M274.5 43.7C305 36 330 35 345 46C356 55 364 68 370.2 81.5M357.9 77.5L370.2 81.5L373.7 69.2"/>
<path d="M571.6 43.7C548 47 532 55 521.7 69M521 60.2L521.7 69L531.5 69"/>
<path d="M902.5 138.5C870 160 835 178 800 170C760 160 735 145 700 152C660 160 625 180 594.4 202.8M596.3 191.3L594.4 202.8L607.8 205.7"/>
<path d="M942.8 139.5C925 175 905 188 870 186C840 184 820 175 782.5 202.8M785.4 191L782.5 202.8L795 205.7"/>
<path d="M570 979.5C605 972 618 955 619.5 920M611.2 925.5L619.7 918L629.3 925.5"/>
</svg>
</body></html>
